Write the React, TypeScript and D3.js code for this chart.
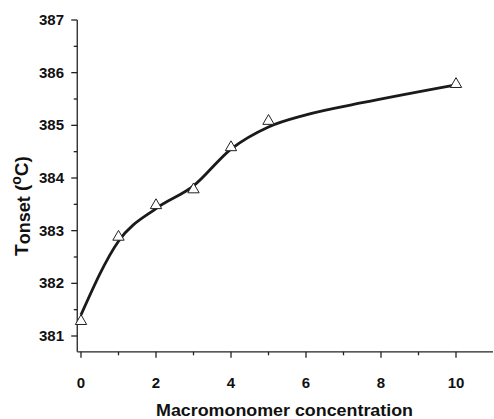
import React from "react";
import * as d3 from "d3";

const concentrations = [0, 1, 2, 3, 4, 5, 10];
const tOnset = [381.3, 382.9, 383.5, 383.8, 384.6, 385.1, 385.8];
const fitX = [0, 1, 2, 3, 4, 5, 6, 7.5, 10];
const fitY = [381.4, 382.8, 383.42, 383.85, 384.55, 384.97, 385.2, 385.43, 385.77];
const xTicks = [0, 2, 4, 6, 8, 10];
const yTicks = [381, 382, 383, 384, 385, 386, 387];

export default function App() {
  const W = 494, H = 419;
  const x = d3.scaleLinear().domain([0, 10]).range([81, 456]);
  const y = d3.scaleLinear().domain([381, 387]).range([336, 20]);
  const x0 = x(-0.1), x1 = 493;
  const y0 = y(380.7), y1 = y(387);
  const font = "'Liberation Sans', Arial, sans-serif";
  const line = d3
    .line<number>()
    .x((_, i) => x(fitX[i]))
    .y((d) => y(d))
    .curve(d3.curveMonotoneX);
  const minorX = d3.range(1, 11, 2);
  const minorY = d3.range(380.5, 387, 0.5).filter((v) => v > 380.7 && v % 1 !== 0);
  const tri = d3.symbol().type(d3.symbolTriangle).size(56)();
  return (
    <svg width={W} height={H} style={{ position: "absolute", left: 0, top: 0 }}>
      <rect width={W} height={H} fill="#fff" />
      <g stroke="#222" strokeWidth={1.3} fill="none">
        <line x1={x0} x2={x1} y1={y0} y2={y0} />
        <line x1={x0} x2={x0} y1={y0} y2={y1} />
        {xTicks.map((t) => (
          <line key={"xt" + t} x1={x(t)} x2={x(t)} y1={y0} y2={y0 + 6} />
        ))}
        {minorX.map((t) => (
          <line key={"xm" + t} x1={x(t)} x2={x(t)} y1={y0} y2={y0 + 3.5} />
        ))}
        {yTicks.map((t) => (
          <line key={"yt" + t} x1={x0} x2={x0 - 6} y1={y(t)} y2={y(t)} />
        ))}
        {minorY.map((t) => (
          <line key={"ym" + t} x1={x0} x2={x0 - 3.5} y1={y(t)} y2={y(t)} />
        ))}
      </g>
      <g fontFamily={font} fontWeight="bold" fontSize={15} fill="#111">
        {xTicks.map((t) => (
          <text key={"xl" + t} x={x(t)} y={388} textAnchor="middle">{t}</text>
        ))}
        {yTicks.map((t) => (
          <text key={"yl" + t} x={64} y={y(t) + 5} textAnchor="end">{t}</text>
        ))}
      </g>
      <path d={line(fitY) || ""} fill="none" stroke="#1a1a1a" strokeWidth={2.8} />
      {concentrations.map((c, i) => (
        <path
          key={"p" + i}
          d={tri}
          transform={`translate(${x(c)},${y(tOnset[i]) + 1})`}
          fill="#fff"
          stroke="#222"
          strokeWidth={1}
        />
      ))}
      <text
        x={284.5}
        y={416}
        textAnchor="middle"
        fontFamily={font}
        fontWeight="bold"
        fontSize={17}
        textLength={257}
        lengthAdjust="spacingAndGlyphs"
        fill="#111"
      >
        Macromonomer concentration
      </text>
      <text
        transform={`translate(28,206) rotate(-90)`}
        textAnchor="middle"
        fontFamily={font}
        fontWeight="bold"
        fontSize={19}
        fill="#111"
      >
        T<tspan fontSize={18} dy={1.5}>onset</tspan>
        <tspan dy={-1.5}> (</tspan>
        <tspan fontSize={14} dy={-7}>o</tspan>
        <tspan dy={7}>C)</tspan>
      </text>
    </svg>
  );
}
